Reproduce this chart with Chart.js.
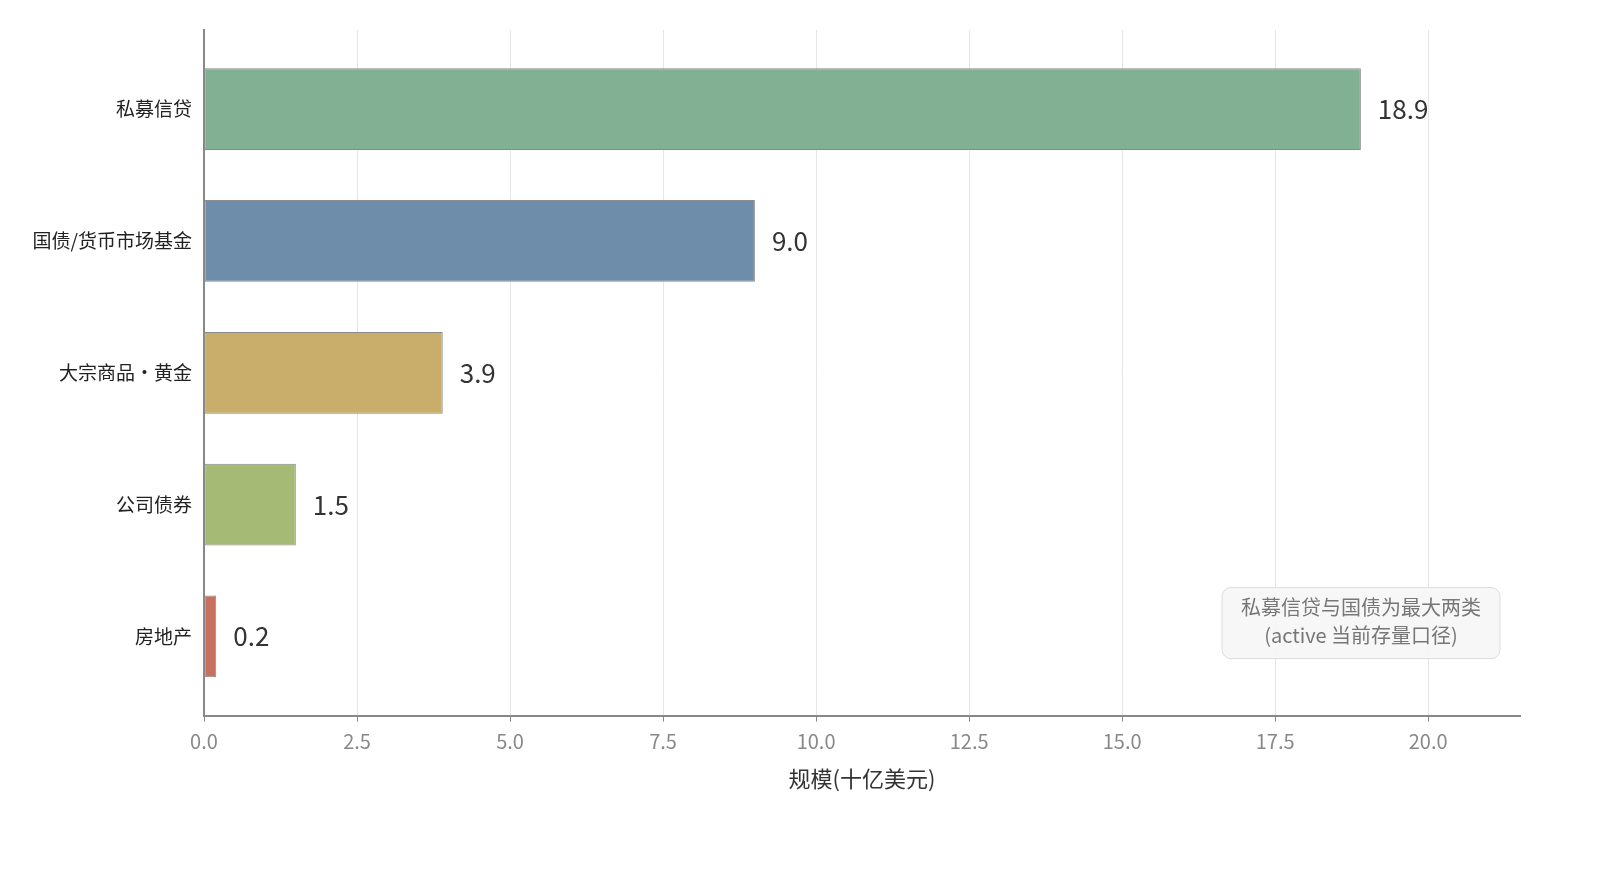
<!DOCTYPE html>
<html>
<head>
<meta charset="utf-8">
<script src="https://cdn.jsdelivr.net/npm/chart.js@4"></script>
<style>
  html, body { margin: 0; padding: 0; background: #fff; overflow: hidden; }
  canvas { display: block; }
</style>
</head>
<body>
<canvas id="c" width="1600" height="878" style="width:1600px;height:878px"></canvas>
<script>
// data
const categories = ['私募信贷', '国债/货币市场基金', '大宗商品・黄金', '公司债券', '房地产'];
const values = [18.9, 9.0, 3.9, 1.5, 0.2];
const barColors = ['#82B092', '#6E8DAB', '#C8AE6A', '#A5BA75', '#C8705F'];
const xTicks = [0, 2.5, 5, 7.5, 10, 12.5, 15, 17.5, 20];
const noteLines = ['私募信贷与国债为最大两类', '(active 当前存量口径)'];
const xTitle = '规模(十亿美元)';

const FONT = '"Noto Sans CJK SC", "Noto Sans", sans-serif';

// value labels at bar ends
const valueLabels = {
  id: 'valueLabels',
  afterDatasetsDraw(chart) {
    const ctx = chart.ctx;
    const meta = chart.getDatasetMeta(0);
    ctx.save();
    ctx.font = '26px ' + FONT;
    ctx.fillStyle = '#333';
    ctx.textAlign = 'left';
    ctx.textBaseline = 'middle';
    meta.data.forEach((bar, i) => {
      ctx.fillText(values[i].toFixed(1), bar.x + 17, bar.y);
    });
    ctx.restore();
  }
};

// note box bottom right
const noteBox = {
  id: 'noteBox',
  afterDraw(chart) {
    const ctx = chart.ctx;
    const a = chart.chartArea;
    const w = 278, h = 71;
    const x = a.right - 298, y = a.bottom - 128;
    ctx.save();
    ctx.beginPath();
    ctx.roundRect(x, y, w, h, 9);
    ctx.fillStyle = 'rgba(246,246,246,0.92)';
    ctx.fill();
    ctx.lineWidth = 1;
    ctx.strokeStyle = '#dcdcdc';
    ctx.stroke();
    ctx.font = '20px ' + FONT;
    ctx.fillStyle = '#777';
    ctx.textAlign = 'center';
    ctx.textBaseline = 'middle';
    ctx.fillText(noteLines[0], x + w / 2, y + 20);
    ctx.fillText(noteLines[1], x + w / 2, y + 48);
    ctx.restore();
  }
};

new Chart(document.getElementById('c'), {
  type: 'bar',
  data: {
    datasets: [{
      data: values.map((v, i) => ({ x: v, y: i })),
      backgroundColor: barColors,
      borderColor: '#8a8a8a',
      borderWidth: 1,
      borderSkipped: false,
      barPercentage: 0.62,
      categoryPercentage: 1
    }]
  },
  options: {
    indexAxis: 'y',
    responsive: false,
    animation: false,
    devicePixelRatio: 1,
    layout: { padding: { top: 30, right: 80, left: 0, bottom: 86 } },
    plugins: { legend: { display: false }, tooltip: { enabled: false } },
    scales: {
      x: {
        type: 'linear',
        min: 0,
        max: 21.5,
        afterBuildTicks: s => { s.ticks = xTicks.map(v => ({ value: v })); },
        grid: { color: '#e6e6e6', lineWidth: 1, tickLength: 6, tickColor: '#888' },
        border: { color: '#888', width: 2 },
        ticks: {
          color: '#888',
          font: { family: FONT, size: 20 },
          padding: 8,
          maxRotation: 0,
          callback: v => v.toFixed(1)
        },
        title: {
          display: true,
          text: xTitle,
          color: '#333',
          font: { family: FONT, size: 22 },
          padding: { top: 4, bottom: 0 }
        }
      },
      y: {
        type: 'linear',
        offset: false,
        bounds: 'data',
        reverse: true,
        min: -0.6,
        max: 4.6,
        afterDataLimits: s => { s.min = -0.6; s.max = 4.6; },
        afterBuildTicks: s => { s.ticks = categories.map((c, i) => ({ value: i })); },
        afterFit: s => { s.width = 204; },
        grid: { display: false, drawTicks: false, offset: false },
        border: { color: '#888', width: 2 },
        ticks: {
          color: '#222',
          font: { family: FONT, size: 19 },
          padding: 12,
          callback: v => categories[v]
        }
      }
    }
  },
  plugins: [valueLabels, noteBox]
});
</script>
</body>
</html>
